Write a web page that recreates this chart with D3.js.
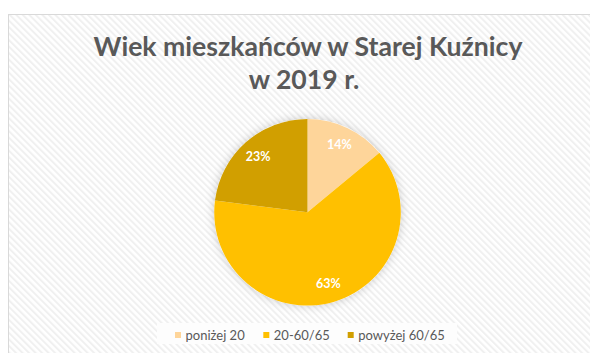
<!DOCTYPE html>
<html>
<head>
<meta charset="utf-8">
<script src="https://cdn.jsdelivr.net/npm/d3@7/dist/d3.min.js"></script>
<style>
  html, body { margin: 0; padding: 0; background: #fff; }
  svg { display: block; }
</style>
</head>
<body>
<svg id="chart" width="590" height="353"></svg>
<script>
// Age groups of residents, Stara Kuźnica, 2019 (percent)
const categories = ["poniżej 20", "20-60/65", "powyżej 60/65"];
const shares = [14, 63, 23];
const colors = ["#FED59A", "#FFC000", "#D19F00"];
const titleLines = ["Wiek mieszkańców w Starej Kuźnicy", "w 2019 r."];

const W = 590, H = 353;
const svg = d3.select("#chart");
const defs = svg.append("defs");

// light diagonal hatch used for the chart area background
const pat = defs.append("pattern")
  .attr("id", "hatch")
  .attr("patternUnits", "userSpaceOnUse")
  .attr("width", 4.6).attr("height", 4.6)
  .attr("patternTransform", "rotate(-45)");
pat.append("rect").attr("width", 4.6).attr("height", 4.6).attr("fill", "#ffffff");
pat.append("rect").attr("width", 2).attr("height", 4.6).attr("fill", "#f0f0f0");

// soft shadow around the pie
const f = defs.append("filter").attr("id", "glow")
  .attr("x", "-30%").attr("y", "-30%").attr("width", "160%").attr("height", "160%");
f.append("feDropShadow").attr("dx", 0).attr("dy", 0)
  .attr("stdDeviation", 5).attr("flood-color", "#000").attr("flood-opacity", 0.2);

// chart area with its border
svg.append("rect")
  .attr("x", 8.5).attr("y", 14.5)
  .attr("width", W).attr("height", H)
  .attr("fill", "url(#hatch)")
  .attr("stroke", "#d9d9d9").attr("stroke-width", 1);

// title
const fontFamily = "Lato, 'Open Sans', 'DejaVu Sans', sans-serif";
const title = svg.append("g")
  .attr("font-family", fontFamily)
  .attr("font-weight", "bold")
  .attr("fill", "#595959")
  .attr("text-anchor", "middle");
const t1 = title.append("text").attr("x", 308).attr("y", 56)
  .attr("font-size", 24).text(titleLines[0]);
// scale font so the first line spans the intended width
const w1 = t1.node().getComputedTextLength();
const fs = 24 * 429 / w1;
t1.attr("font-size", fs);
title.append("text").attr("x", 304).attr("y", 89)
  .attr("font-size", fs).text(titleLines[1]);

// pie
const cx = 307.5, cy = 212.3, r = 93.3;
const pie = d3.pie().sort(null).value(d => d)(shares);
const arc = d3.arc().innerRadius(0).outerRadius(r);
const labelArc = d3.arc().innerRadius(r * 0.8).outerRadius(r * 0.8);

const g = svg.append("g").attr("transform", `translate(${cx},${cy})`);
g.append("circle").attr("r", r).attr("fill", "#fff").attr("filter", "url(#glow)");
g.selectAll("path.slice").data(pie).join("path")
  .attr("class", "slice")
  .attr("d", arc)
  .attr("fill", (d, i) => colors[i]);

g.selectAll("text.lbl").data(pie).join("text")
  .attr("class", "lbl")
  .attr("transform", d => `translate(${labelArc.centroid(d)})`)
  .attr("text-anchor", "middle")
  .attr("dy", "0.35em")
  .attr("font-family", fontFamily)
  .attr("font-weight", "bold")
  .attr("font-size", 12.5)
  .attr("fill", "#ffffff")
  .text(d => d.data + "%");

// legend
svg.append("rect")
  .attr("x", 157).attr("y", 323).attr("width", 300).attr("height", 21)
  .attr("fill", "#fdfdfd");
const legend = svg.append("g")
  .attr("font-family", fontFamily)
  .attr("font-size", 13)
  .attr("fill", "#595959");
const swatchX = [175, 263.3, 347.7];
categories.forEach((c, i) => {
  legend.append("rect")
    .attr("x", swatchX[i]).attr("y", 332)
    .attr("width", 6).attr("height", 6)
    .attr("fill", colors[i]);
  legend.append("text")
    .attr("x", swatchX[i] + 10.5).attr("y", 335)
    .attr("dy", "0.35em")
    .text(c);
});
</script>
</body>
</html>
